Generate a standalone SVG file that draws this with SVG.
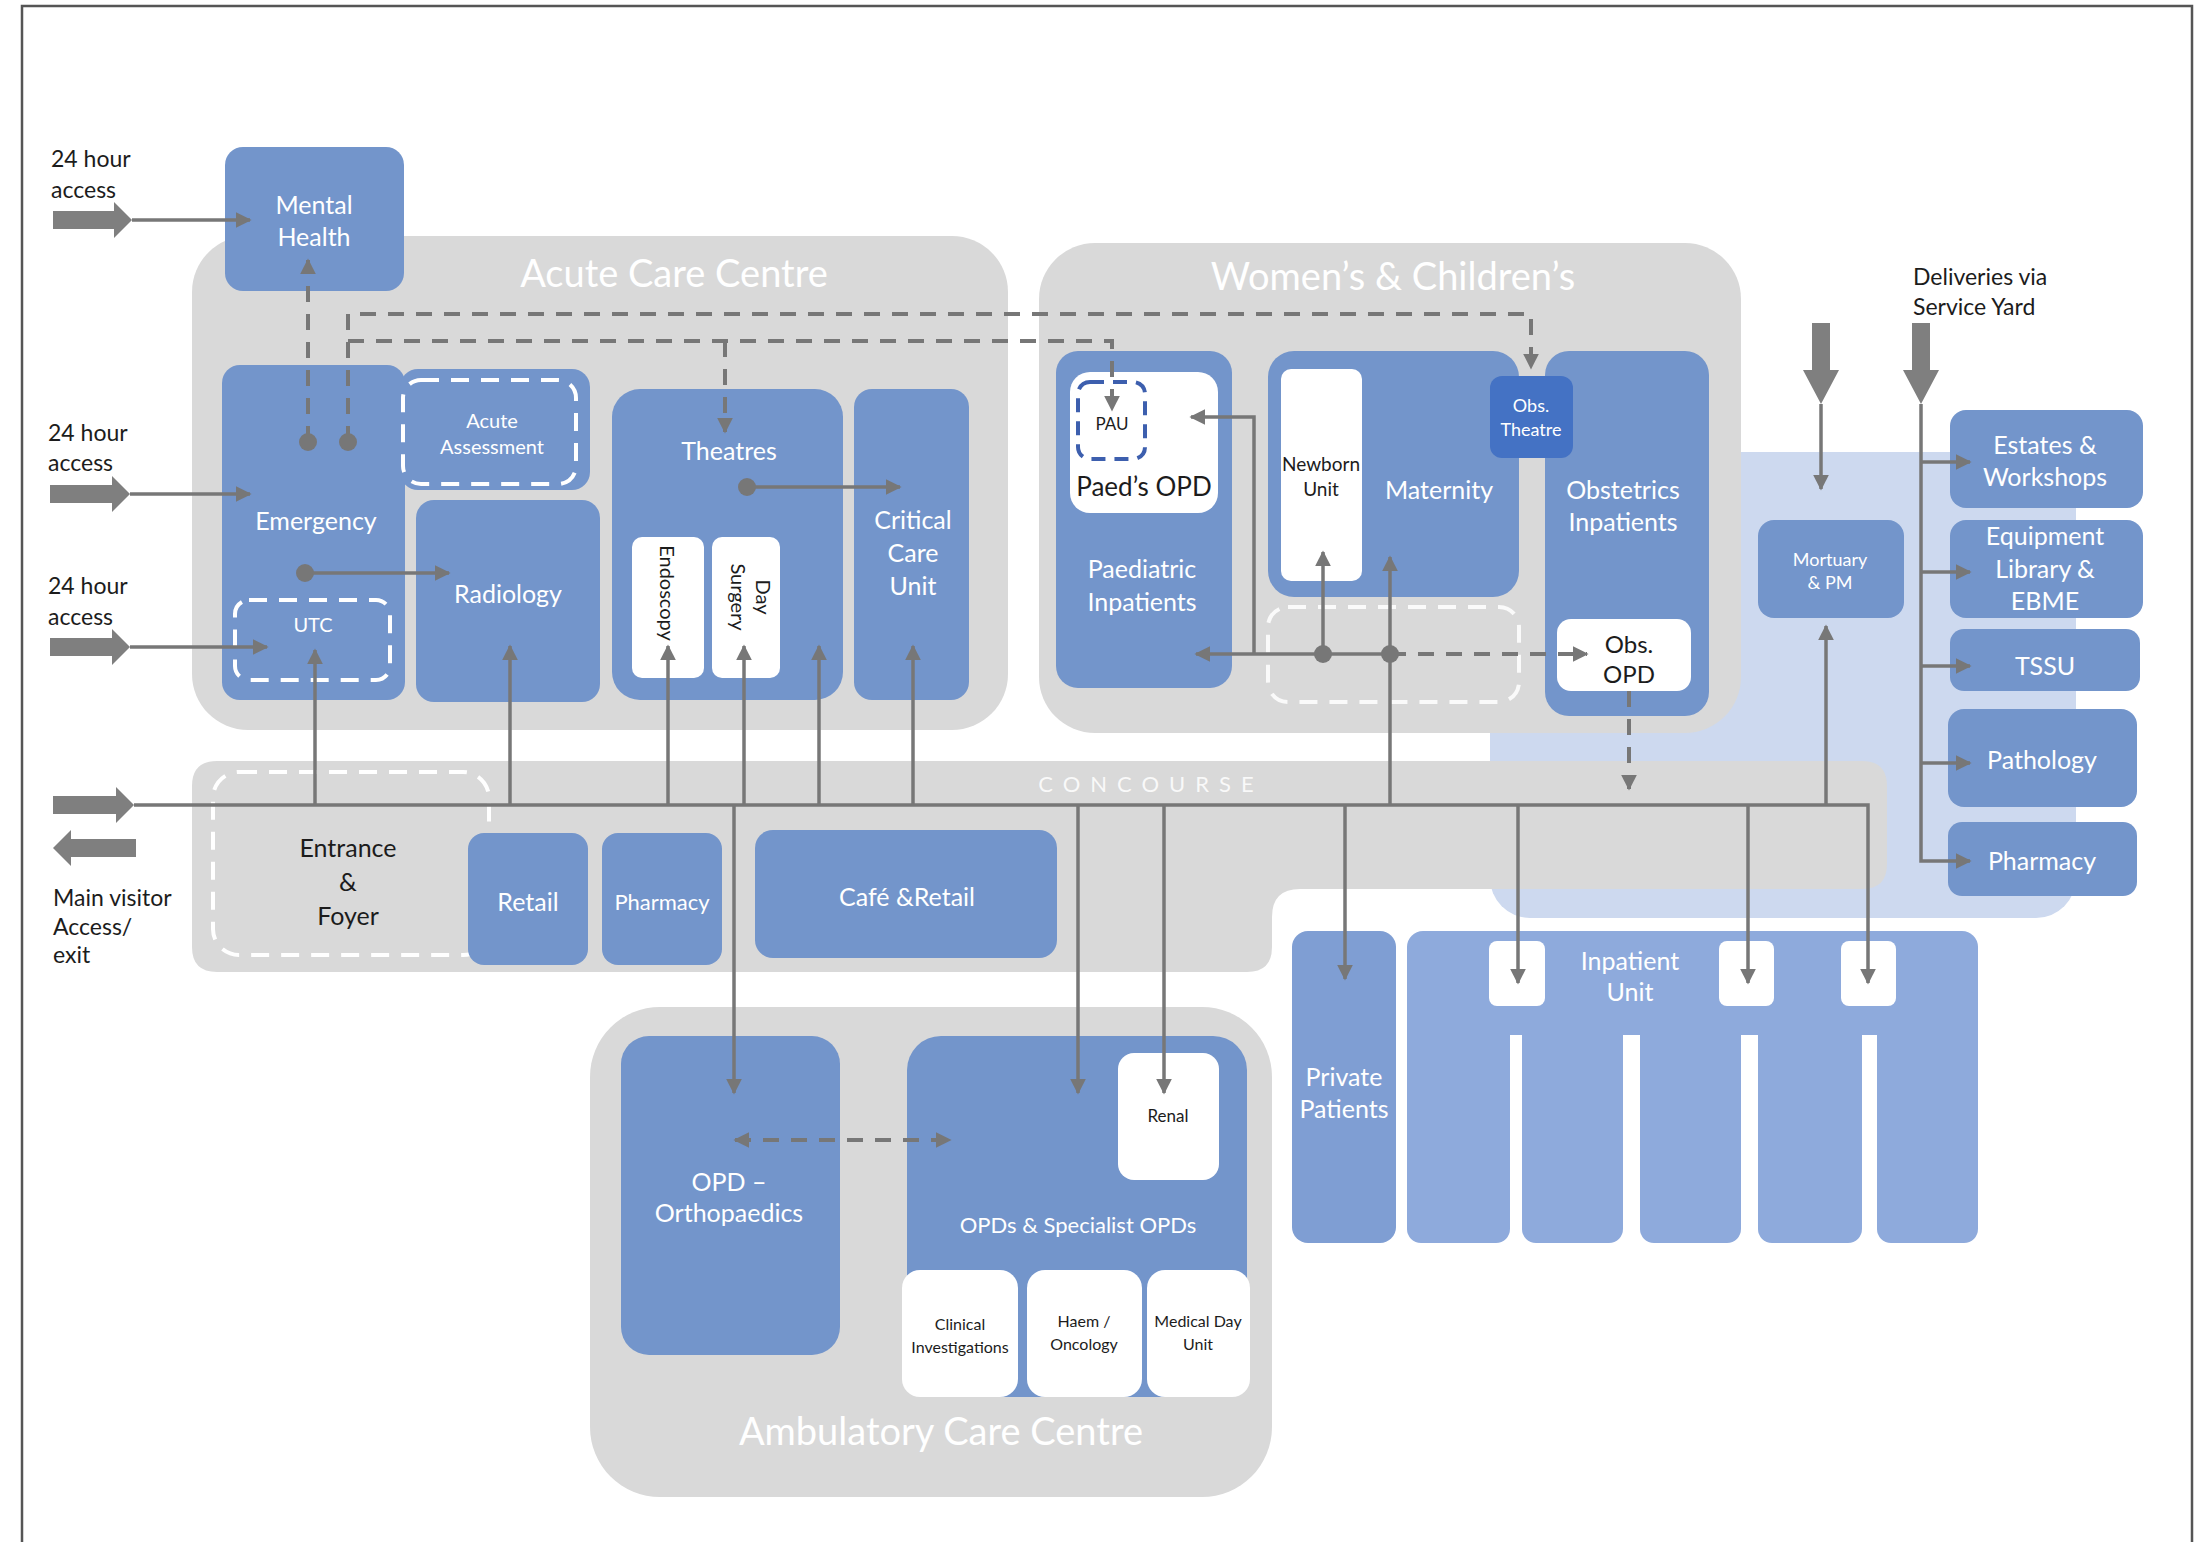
<svg xmlns="http://www.w3.org/2000/svg" width="2202" height="1542" viewBox="0 0 2202 1542">
<style>
text{font-family:Lato,"Liberation Sans",sans-serif;text-anchor:middle}
.b{fill:#7395cb}
.wb{fill:#ffffff}
.zone{fill:#d9d9d9}
.w{fill:#ffffff}
.d{fill:#1c1c1c}
.dl{fill:#1c1c1c;text-anchor:start;font-size:23px}
.t{font-size:38px;fill:#ffffff}
.m{font-size:25px}
.c{fill:none;stroke:#777777;stroke-width:3.5}
.dc{fill:none;stroke:#777777;stroke-width:4;stroke-dasharray:16 12}
.wd{fill:none;stroke:#ffffff;stroke-width:4;stroke-dasharray:18 12}
.blk{fill:#7f7f7f}
.dot{fill:#777777}
</style>
<defs>
<marker id="ah" viewBox="0 0 10 10" refX="9" refY="5" markerWidth="16" markerHeight="16" markerUnits="userSpaceOnUse" orient="auto-start-reverse"><path d="M0,0 L10,5 L0,10 Z" fill="#777777"/></marker>
</defs>
<rect x="0" y="0" width="2202" height="1542" fill="#ffffff"/>
<path d="M22,1542 V6 H2192 V1542" fill="none" stroke="#555555" stroke-width="2.5"/>

<g id="zones">
<rect id="service-area" x="1490" y="452" width="586" height="466" rx="40" fill="#cdd9ef"/>
<rect id="acute-care-centre" class="zone" x="192" y="236" width="816" height="494" rx="56"/>
<rect id="womens-childrens" class="zone" x="1039" y="243" width="702" height="490" rx="56"/>
<path id="concourse" class="zone" d="M217,761 H1862 Q1887,761 1887,786 V864 Q1887,889 1862,889 H1300 Q1272,889 1272,917 V947 Q1272,972 1247,972 H217 Q192,972 192,947 V786 Q192,761 217,761 Z"/>
<rect id="ambulatory-care-centre" class="zone" x="590" y="1007" width="682" height="490" rx="70"/>
<text class="t" x="674" y="287">Acute Care Centre</text>
<text class="t" x="1393" y="290">Women’s &amp; Children’s</text>
<text class="t" x="941" y="1445">Ambulatory Care Centre</text>
<text x="1151" y="792" font-size="22" letter-spacing="10" fill="#ffffff" fill-opacity="0.85">CONCOURSE</text>
</g>

<g id="labels">
<text class="dl" x="51" y="167">24 hour</text>
<text class="dl" x="51" y="198">access</text>
<text class="dl" x="48" y="441">24 hour</text>
<text class="dl" x="48" y="471">access</text>
<text class="dl" x="48" y="594">24 hour</text>
<text class="dl" x="48" y="625">access</text>
<text class="dl" x="53" y="906">Main visitor</text>
<text class="dl" x="53" y="935">Access/</text>
<text class="dl" x="53" y="963">exit</text>
<text class="dl" x="1913" y="285">Deliveries via</text>
<text class="dl" x="1913" y="315">Service Yard</text>
</g>

<g id="mental-health"><rect class="b" x="225" y="147" width="179" height="144" rx="18"/><text class="w m" x="314" y="214">Mental</text><text class="w m" x="314" y="246">Health</text></g>
<g id="emergency"><rect class="b" x="222" y="365" width="183" height="335" rx="18"/><text class="w m" x="316" y="530">Emergency</text></g>
<g id="utc"><rect class="wd" x="235" y="600" width="155" height="80" rx="14"/><text class="w" font-size="20" x="313" y="632">UTC</text></g>
<g id="acute-assessment"><rect class="b" x="400" y="369" width="190" height="121" rx="18"/><rect class="wd" x="403" y="380" width="173" height="104" rx="18"/><text class="w" font-size="20" x="492" y="428">Acute</text><text class="w" font-size="20" x="492" y="454">Assessment</text></g>
<g id="radiology"><rect class="b" x="416" y="500" width="184" height="202" rx="18"/><text class="w m" x="508" y="603">Radiology</text></g>
<g id="theatres"><rect class="b" x="612" y="389" width="231" height="311" rx="28"/><text class="w m" x="729" y="460">Theatres</text></g>
<g id="endoscopy"><rect class="wb" x="632" y="537" width="72" height="141" rx="10"/><text class="d" font-size="20" transform="translate(667,593) rotate(90)" dy="7">Endoscopy</text></g>
<g id="day-surgery"><rect class="wb" x="712" y="537" width="68" height="141" rx="10"/><text class="d" font-size="20" transform="translate(746,597) rotate(90)" dy="-10">Day</text><text class="d" font-size="20" transform="translate(746,597) rotate(90)" dy="15">Surgery</text></g>
<g id="critical-care-unit"><rect class="b" x="854" y="389" width="115" height="311" rx="18"/><text class="w m" x="913" y="529">Critical</text><text class="w m" x="913" y="562">Care</text><text class="w m" x="913" y="595">Unit</text></g>

<g id="paediatric-inpatients"><rect class="b" x="1056" y="351" width="176" height="337" rx="22"/><text class="w m" x="1142" y="578">Paediatric</text><text class="w m" x="1142" y="611">Inpatients</text></g>
<g id="paeds-opd"><rect class="wb" x="1070" y="372" width="148" height="141" rx="20"/><text class="d" font-size="26" x="1144" y="496">Paed’s OPD</text></g>
<g id="pau"><rect x="1078" y="382" width="67" height="77" rx="12" fill="none" stroke="#3d5fae" stroke-width="4" stroke-dasharray="14 9"/><text class="d" font-size="17" x="1112" y="430">PAU</text></g>
<g id="maternity"><rect class="b" x="1268" y="351" width="251" height="246" rx="26"/><text class="w m" x="1439" y="499">Maternity</text></g>
<g id="newborn-unit"><rect class="wb" x="1281" y="369" width="81" height="212" rx="10"/><text class="d" font-size="19" x="1321" y="471">Newborn</text><text class="d" font-size="19" x="1321" y="496">Unit</text></g>
<g id="obstetrics-inpatients"><rect class="b" x="1545" y="351" width="164" height="365" rx="24"/><text class="w m" x="1623" y="499">Obstetrics</text><text class="w m" x="1623" y="531">Inpatients</text></g>
<g id="obs-theatre"><rect x="1490" y="376" width="83" height="82" rx="12" fill="#4472c4"/><text class="w" font-size="18" x="1531" y="412">Obs.</text><text class="w" font-size="18" x="1531" y="436">Theatre</text></g>
<g id="obs-opd"><rect class="wb" x="1557" y="619" width="134" height="72" rx="14"/><text class="d" font-size="24" x="1629" y="653">Obs.</text><text class="d" font-size="24" x="1629" y="683">OPD</text></g>
<g id="wc-link-zone"><rect class="wd" x="1268" y="607" width="251" height="95" rx="20" stroke-opacity="0.85"/></g>

<g id="entrance-foyer"><rect class="wd" x="213" y="772" width="276" height="183" rx="26"/><text class="d m" x="348" y="857">Entrance</text><text class="d m" x="348" y="891">&amp;</text><text class="d m" x="348" y="925">Foyer</text></g>
<g id="retail"><rect class="b" x="468" y="833" width="120" height="132" rx="16"/><text class="w m" x="528" y="911">Retail</text></g>
<g id="pharmacy-concourse"><rect class="b" x="602" y="833" width="120" height="132" rx="16"/><text class="w" font-size="22" x="662" y="910">Pharmacy</text></g>
<g id="cafe-retail"><rect class="b" x="755" y="830" width="302" height="128" rx="18"/><text class="w m" x="907" y="906">Café &amp;Retail</text></g>

<g id="opd-orthopaedics"><rect class="b" x="621" y="1036" width="219" height="319" rx="28"/><text class="w m" x="729" y="1191">OPD –</text><text class="w m" x="729" y="1222">Orthopaedics</text></g>
<g id="opds-specialist"><rect class="b" x="907" y="1036" width="340" height="361" rx="34"/><text class="w" font-size="22" x="1078" y="1233">OPDs &amp; Specialist OPDs</text></g>
<g id="renal"><rect class="wb" x="1118" y="1053" width="101" height="127" rx="16"/><text class="d" font-size="17" x="1168" y="1122">Renal</text></g>
<g id="clinical-investigations"><rect class="wb" x="902" y="1270" width="116" height="127" rx="18"/><text class="d" font-size="16" x="960" y="1330">Clinical</text><text class="d" font-size="16" x="960" y="1353">Investigations</text></g>
<g id="haem-oncology"><rect class="wb" x="1027" y="1270" width="115" height="127" rx="18"/><text class="d" font-size="16" x="1084" y="1327">Haem /</text><text class="d" font-size="16" x="1084" y="1350">Oncology</text></g>
<g id="medical-day-unit"><rect class="wb" x="1147" y="1270" width="103" height="127" rx="18"/><text class="d" font-size="16" x="1198" y="1327">Medical Day</text><text class="d" font-size="16" x="1198" y="1350">Unit</text></g>

<g id="private-patients"><rect x="1292" y="931" width="104" height="312" rx="16" fill="#7f9ed3"/><text class="w m" x="1344" y="1086">Private</text><text class="w m" x="1344" y="1118">Patients</text></g>
<g id="inpatient-unit" fill="#8eaadc">
<rect x="1407" y="931" width="571" height="104" rx="16"/>
<rect x="1407" y="990" width="103" height="253" rx="14"/>
<rect x="1522" y="990" width="101" height="253" rx="14"/>
<rect x="1640" y="990" width="101" height="253" rx="14"/>
<rect x="1758" y="990" width="104" height="253" rx="14"/>
<rect x="1877" y="990" width="101" height="253" rx="14"/>
<rect class="wb" x="1489" y="941" width="56" height="65" rx="8"/>
<rect class="wb" x="1719" y="941" width="55" height="65" rx="8"/>
<rect class="wb" x="1841" y="941" width="55" height="65" rx="8"/>
<text class="w m" x="1630" y="970">Inpatient</text><text class="w m" x="1630" y="1001">Unit</text></g>

<g id="mortuary-pm"><rect class="b" x="1758" y="520" width="146" height="98" rx="16"/><text class="w" font-size="18" x="1830" y="566">Mortuary</text><text class="w" font-size="18" x="1830" y="589">&amp; PM</text></g>
<g id="estates-workshops"><rect class="b" x="1950" y="410" width="193" height="98" rx="16"/><text class="w m" x="2045" y="454">Estates &amp;</text><text class="w m" x="2045" y="486">Workshops</text></g>
<g id="equipment-library"><rect class="b" x="1950" y="520" width="193" height="98" rx="16"/><text class="w m" x="2045" y="545">Equipment</text><text class="w m" x="2045" y="578">Library &amp;</text><text class="w m" x="2045" y="610">EBME</text></g>
<g id="tssu"><rect class="b" x="1950" y="629" width="190" height="62" rx="14"/><text class="w m" x="2045" y="675">TSSU</text></g>
<g id="pathology"><rect class="b" x="1948" y="709" width="189" height="98" rx="16"/><text class="w m" x="2042" y="769">Pathology</text></g>
<g id="pharmacy-service"><rect class="b" x="1948" y="822" width="189" height="74" rx="14"/><text class="w m" x="2042" y="870">Pharmacy</text></g>

<g id="connectors">
<polygon class="blk" points="53,211 114,211 114,202 132,220 114,238 114,229 53,229"/>
<polygon class="blk" points="50,485 112,485 112,476 130,494 112,512 112,503 50,503"/>
<polygon class="blk" points="50,638 112,638 112,629 130,647 112,665 112,656 50,656"/>
<polygon class="blk" points="53,796 116,796 116,787 134,805 116,823 116,814 53,814"/>
<polygon class="blk" points="53,848 71,830 71,839 136,839 136,857 71,857 71,866"/>
<polygon class="blk" points="1812,323 1830,323 1830,370 1839,370 1821,404 1803,370 1812,370"/>
<polygon class="blk" points="1912,323 1930,323 1930,370 1939,370 1921,404 1903,370 1912,370"/>
<path class="c" d="M132,220 H250" marker-end="url(#ah)"/>
<path class="c" d="M130,494 H250" marker-end="url(#ah)"/>
<path class="c" d="M130,647 H267" marker-end="url(#ah)"/>
<path class="c" d="M134,805 H1868 V983" marker-end="url(#ah)"/>
<path class="c" d="M315,805 V650" marker-end="url(#ah)"/>
<path class="c" d="M510,805 V646" marker-end="url(#ah)"/>
<path class="c" d="M668,805 V646" marker-end="url(#ah)"/>
<path class="c" d="M744,805 V646" marker-end="url(#ah)"/>
<path class="c" d="M819,805 V646" marker-end="url(#ah)"/>
<path class="c" d="M913,805 V646" marker-end="url(#ah)"/>
<path class="c" d="M1390,805 V557" marker-end="url(#ah)"/>
<path class="c" d="M1826,805 V626" marker-end="url(#ah)"/>
<path class="c" d="M734,805 V1093" marker-end="url(#ah)"/>
<path class="c" d="M1078,805 V1093" marker-end="url(#ah)"/>
<path class="c" d="M1164,805 V1093" marker-end="url(#ah)"/>
<path class="c" d="M1345,805 V979" marker-end="url(#ah)"/>
<path class="c" d="M1518,805 V983" marker-end="url(#ah)"/>
<path class="c" d="M1748,805 V983" marker-end="url(#ah)"/>
<path class="c" d="M305,573 H449" marker-end="url(#ah)"/>
<path class="c" d="M747,487 H900" marker-end="url(#ah)"/>
<path class="c" d="M1390,654 H1196" marker-end="url(#ah)"/>
<path class="c" d="M1323,654 V552" marker-end="url(#ah)"/>
<path class="c" d="M1254,654 V417 H1191" marker-end="url(#ah)"/>
<path class="c" d="M1821,404 V489" marker-end="url(#ah)"/>
<path class="c" d="M1921,404 V861 H1970" marker-end="url(#ah)"/>
<path class="c" d="M1921,462 H1970" marker-end="url(#ah)"/>
<path class="c" d="M1921,572 H1970" marker-end="url(#ah)"/>
<path class="c" d="M1921,666 H1970" marker-end="url(#ah)"/>
<path class="c" d="M1921,763 H1970" marker-end="url(#ah)"/>
<path class="dc" d="M308,442 V260" marker-end="url(#ah)"/>
<path class="dc" d="M348,442 V314 H1531 V368" marker-end="url(#ah)"/>
<path class="dc" d="M348,341 H1112 V410" marker-end="url(#ah)"/>
<path class="dc" d="M725,341 V432" marker-end="url(#ah)"/>
<path class="dc" d="M1390,654 H1587" marker-end="url(#ah)"/>
<path class="dc" d="M1629,691 V789" marker-end="url(#ah)"/>
<path class="dc" d="M735,1140 H950" marker-start="url(#ah)" marker-end="url(#ah)"/>
<circle class="dot" cx="308" cy="442" r="9"/>
<circle class="dot" cx="348" cy="442" r="9"/>
<circle class="dot" cx="305" cy="573" r="9"/>
<circle class="dot" cx="747" cy="487" r="9"/>
<circle class="dot" cx="1323" cy="654" r="9"/>
<circle class="dot" cx="1390" cy="654" r="9"/>
</g>
</svg>
